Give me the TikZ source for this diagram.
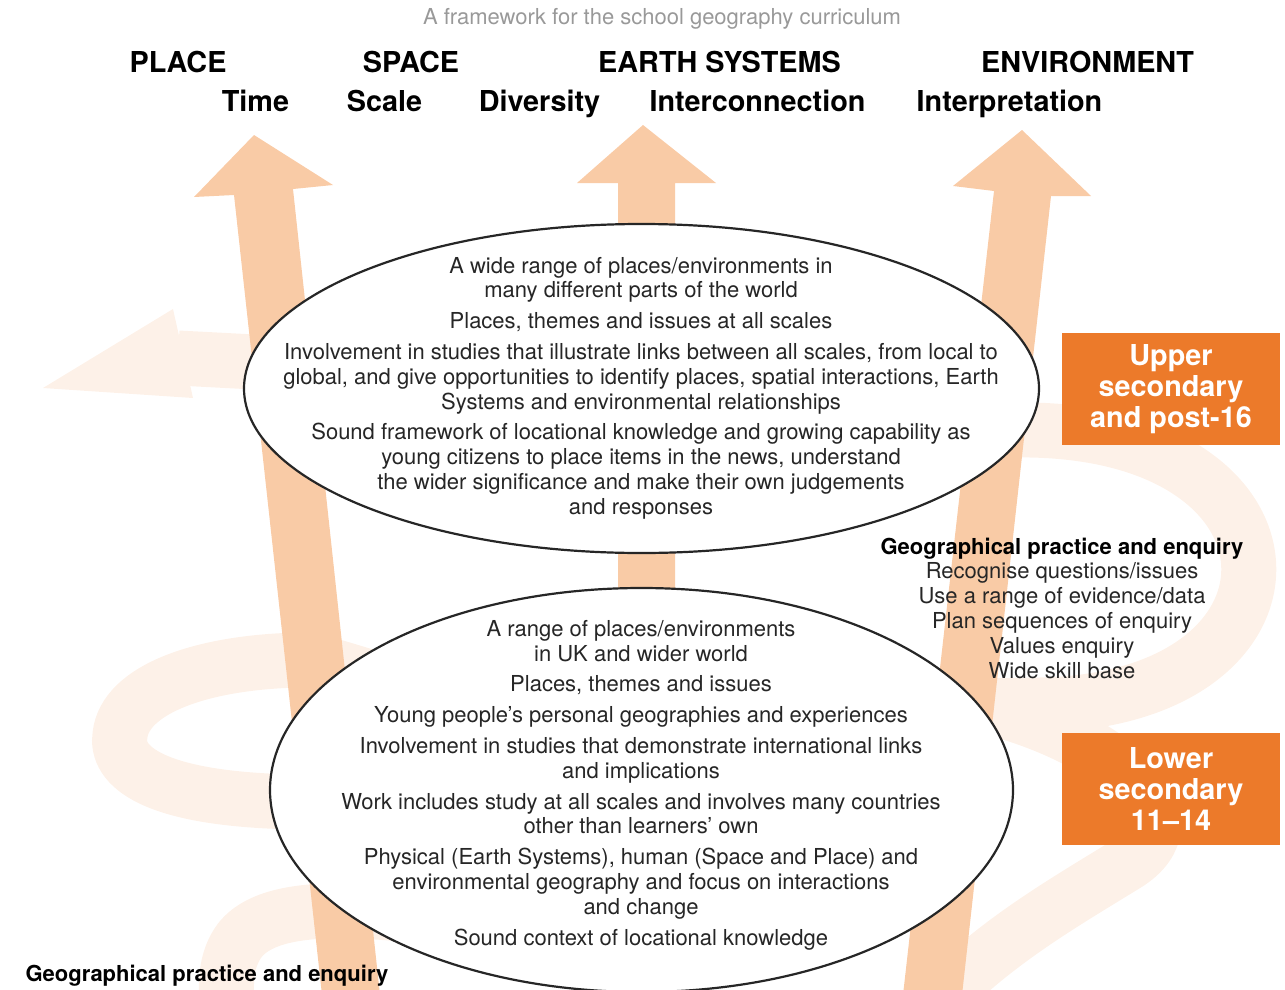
\documentclass[tikz,border=0pt]{standalone}
\usepackage{fontspec}
\setmainfont{TeX Gyre Heros}
\usetikzlibrary{shapes.geometric}

\definecolor{arrowpeach}{RGB}{249,203,166}
\definecolor{swirl}{RGB}{253,241,232}
\definecolor{stageorange}{RGB}{236,122,42}

\newcommand{\bodysize}{\fontsize{22}{24.8}\selectfont}
\newcommand{\headsize}{\fontsize{28.8}{31}\selectfont}

\begin{document}
\begin{tikzpicture}[x=1pt,y=-1pt,
    bubble/.style   ={ellipse, draw=black!85, line width=2.2pt, fill=white, inner sep=0pt},
    bodytext/.style ={align=center, text=black!85, font=\bodysize},
    heading/.style  ={anchor=base, font=\headsize\bfseries},
    stagebox/.style ={fill=stageorange, text=white, align=center, font=\headsize\bfseries,
                      minimum width=218pt, minimum height=112pt, inner sep=0pt},
    swirlband/.style={draw=swirl, line width=55pt},
    bigarrow/.style ={fill=arrowpeach}]
   \clip (0,0) rectangle (1285,990);

   % the swirl, mostly hidden by the bubbles
   \draw[swirlband] (560,378) -- (178,358);
   \fill[swirl] (173,309) -- (43,388) -- (193,398) -- cycle;
   \draw[swirlband] (620,410) .. controls (850,425) .. (1030,430)
        .. controls (1320,435) and (1320,700) .. (1040,705) -- (980,706);
   \draw[swirlband] (985,706) .. controls (1120,740) and (1200,820) .. (1125,865)
        .. controls (1060,905) and (990,945) .. (930,1010);
   \draw[swirlband] (560,805) -- (300,802) .. controls (150,800) and (115,765) .. (120,735)
        .. controls (125,690) and (200,662) .. (300,660)
        .. controls (340,662) and (380,690) .. (560,720);
   \draw[swirlband] (560,935) .. controls (420,915) and (280,890) .. (240,940)
        .. controls (225,960) and (225,985) .. (228,1010);

   % three rising arrows
   \fill[bigarrow] (234,195) -- (194,197) -- (254,135) -- (333,185) -- (293,189)
        -- (380,995) -- (322,995) -- cycle;
   \fill[bigarrow] (618,183) -- (577,183) -- (643,125) -- (716,183) -- (675,183)
        -- (675,995) -- (618,995) -- cycle;
   \fill[bigarrow] (994,191) -- (953,186) -- (1022,130) -- (1091,196) -- (1051,196)
        -- (962,995) -- (903,995) -- cycle;

   \node[anchor=base, text=black!40, font=\bodysize] (title) at (662,25)
        {A framework for the school geography curriculum};

   \node[heading] (place)  at (178,73)    {PLACE};
   \node[heading] (space)  at (411,73)    {SPACE};
   \node[heading] (earth)  at (719.5,73)  {EARTH SYSTEMS};
   \node[heading] (envir)  at (1087.5,73) {ENVIRONMENT};
   \node[heading] (time)   at (255.5,111)  {Time};
   \node[heading] (scale)  at (384.5,111)  {Scale};
   \node[heading] (divers) at (539.5,111)  {Diversity};
   \node[heading] (inter)  at (757.5,111)  {Interconnection};
   \node[heading] (interp) at (1009.5,111) {Interpretation};

   \node[bubble, minimum width=795pt, minimum height=329pt] (upper) at (641.5,388.5) {};
   \node[bubble, minimum width=743pt, minimum height=404pt] (lower) at (641.5,790) {};

   \node[bodytext] (upperText) at (641,388)
        {A wide range of places/environments in\\ many different parts of the world\\[6pt]
         Places, themes and issues at all scales\\[6pt]
         Involvement in studies that illustrate links between all scales, from local to\\
         global, and give opportunities to identify places, spatial interactions, Earth\\
         Systems and environmental relationships\\[6pt]
         Sound framework of locational knowledge and growing capability as\\
         young citizens to place items in the news, understand\\
         the wider significance and make their own judgements\\ and responses};
   \node[bodytext] (lowerText) at (641,785)
        {A range of places/environments\\ in UK and wider world\\[6pt]
         Places, themes and issues\\[6pt]
         Young people’s personal geographies and experiences\\[6pt]
         Involvement in studies that demonstrate international links\\ and implications\\[6pt]
         Work includes study at all scales and involves many countries\\ other than learners’ own\\[6pt]
         Physical (Earth Systems), human (Space and Place) and\\
         environmental geography and focus on interactions\\ and change\\[6pt]
         Sound context of locational knowledge};

   \node[bodytext] (practice) at (1062,608)
        {\textcolor{black}{\bfseries Geographical practice and enquiry}\\ Recognise questions/issues\\
         Use a range of evidence/data\\ Plan sequences of enquiry\\ Values enquiry\\ Wide skill base};
   \node[anchor=base, font=\bodysize\bfseries] (practiceLow) at (207,981)
        {Geographical practice and enquiry};

   \node[stagebox] (upperStage) at (1171,389) {Upper\\ secondary\\ and post-16};
   \node[stagebox] (lowerStage) at (1171,789) {Lower\\ secondary\\ 11--14};
\end{tikzpicture}
\end{document}
